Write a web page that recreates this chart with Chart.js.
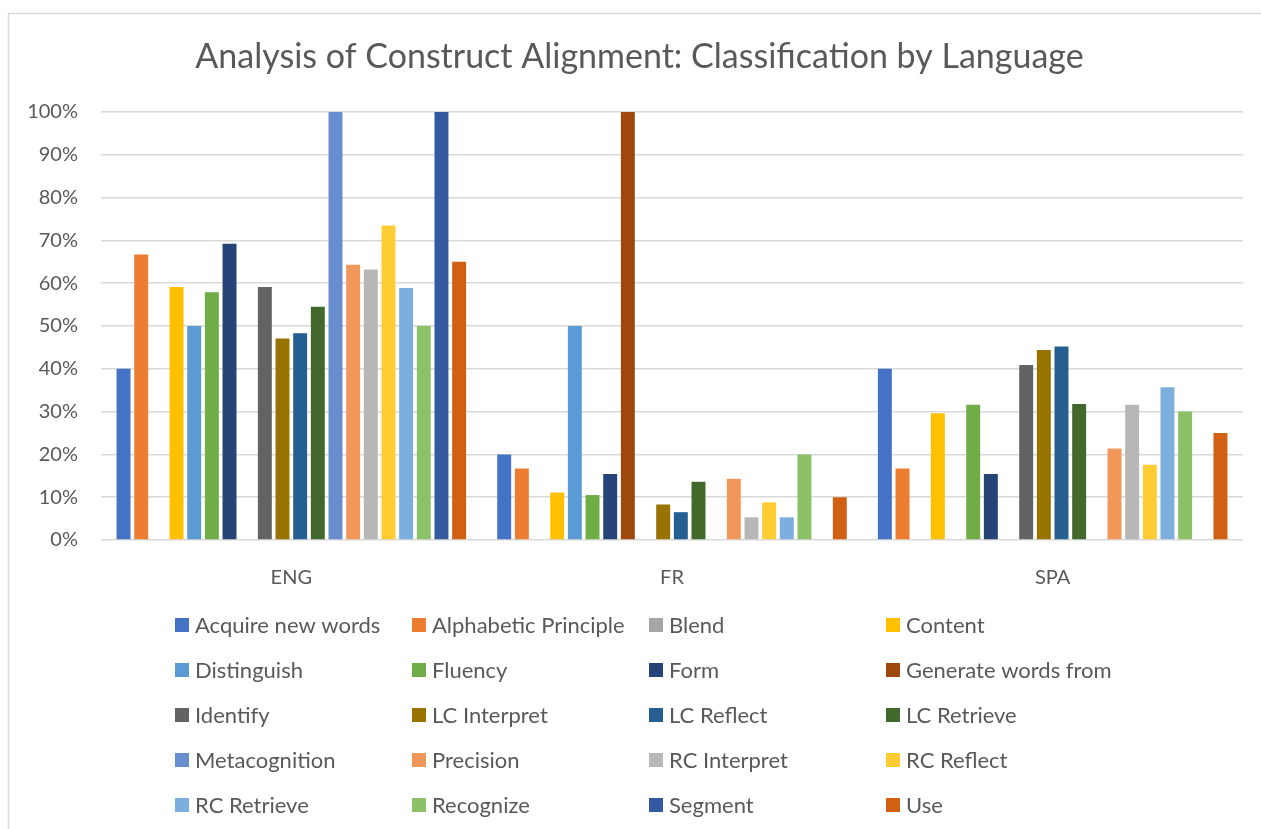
<!DOCTYPE html>
<html>
<head>
<meta charset="utf-8">
<script src="https://cdn.jsdelivr.net/npm/chart.js@4"></script>
<style>
    html, body { margin: 0; padding: 0; background: #fff; }
    #wrap { width: 1261px; height: 829px; }
</style>
</head>
<body>
<div id="wrap"><canvas id="chart" width="1261" height="829"></canvas></div>
<script>
// Languages on the x axis
const languages = ['ENG', 'FR', 'SPA'];

// Construct names (legend order)
const constructs = [
    'Acquire new words', 'Alphabetic Principle', 'Blend', 'Content',
    'Distinguish', 'Fluency', 'Form', 'Generate words from',
    'Identify', 'LC Interpret', 'LC Reflect', 'LC Retrieve',
    'Metacognition', 'Precision', 'RC Interpret', 'RC Reflect',
    'RC Retrieve', 'Recognize', 'Segment', 'Use'
];

// Percent values per language, same order as constructs (null = no bar)
const engValues = [40, 66.7, null, 59.1, 50, 57.9, 69.2, null, 59.1, 47.1, 48.3, 54.5, 100, 64.3, 63.2, 73.5, 58.9, 50, 100, 65];
const frValues  = [20, 16.7, null, 11.1, 50, 10.5, 15.4, 100, null, 8.3, 6.5, 13.6, null, 14.3, 5.3, 8.8, 5.3, 20, null, 10];
const spaValues = [40, 16.7, null, 29.6, null, 31.6, 15.4, null, 40.9, 44.4, 45.2, 31.8, null, 21.4, 31.6, 17.6, 35.7, 30, null, 25];

// Office palette colours for the 20 series
const colors = [
    '#4472C4', '#ED7D31', '#A5A5A5', '#FFC000',
    '#5B9BD5', '#70AD47', '#264478', '#9E480E',
    '#636363', '#997300', '#255E91', '#43682B',
    '#698ED0', '#F1975A', '#B7B7B7', '#FFCD33',
    '#7CAFDD', '#8CC168', '#335AA1', '#D26012'
];

const chartTitle = 'Analysis of Construct Alignment: Classification by Language';
const textColor = '#595959';
const gridColor = '#d9d9d9';
const fontFamily = 'Lato, "Liberation Sans", sans-serif';

const datasets = constructs.map((name, i) => ({
    label: name,
    data: [engValues[i], frValues[i], spaValues[i]],
    backgroundColor: colors[i],
    borderWidth: 0,
    categoryPercentage: 0.928,
    barPercentage: 0.79,
}));

// White background, the light frame and the title (centred on the frame, not the plot)
const framePlugin = {
    id: 'frame',
    beforeDraw(chart) {
        const ctx = chart.ctx;
        ctx.save();
        ctx.fillStyle = '#ffffff';
        ctx.fillRect(0, 0, chart.width, chart.height);
        ctx.strokeStyle = gridColor;
        ctx.lineWidth = 1.5;
        ctx.strokeRect(8.5, 13.5, chart.width + 10, chart.height + 10);

        ctx.fillStyle = textColor;
        ctx.font = '34px ' + fontFamily;
        ctx.textAlign = 'center';
        ctx.textBaseline = 'middle';
        ctx.fillText(chartTitle, 639.5, 57);
        ctx.restore();
    }
};

// Legend laid out in four fixed columns, like the Excel original
const gridLegendPlugin = {
    id: 'gridLegend',
    afterDraw(chart) {
        const ctx = chart.ctx;
        const startX = 175;
        const startY = 625;
        const colWidth = 237;
        const rowHeight = 45;
        ctx.save();
        ctx.font = '22px ' + fontFamily;
        ctx.textBaseline = 'middle';
        ctx.textAlign = 'left';
        chart.data.datasets.forEach((ds, i) => {
            const x = startX + (i % 4) * colWidth;
            const y = startY + Math.floor(i / 4) * rowHeight;
            ctx.fillStyle = ds.backgroundColor;
            ctx.fillRect(x, y - 7, 14, 14);
            ctx.fillStyle = textColor;
            ctx.fillText(ds.label, x + 20, y + 1);
        });
        ctx.restore();
    }
};

new Chart(document.getElementById('chart'), {
    type: 'bar',
    data: {
        labels: languages,
        datasets: datasets,
    },
    options: {
        responsive: false,
        animation: false,
        layout: {
            padding: { left: 0, right: 18, top: 112, bottom: 229 },
        },
        plugins: {
            legend: { display: false },
            tooltip: { enabled: false },
            title: { display: false },
        },
        scales: {
            x: {
                grid: { display: false },
                border: { display: false },
                ticks: {
                    color: textColor,
                    font: { family: fontFamily, size: 20 },
                    padding: 18,
                },
                afterFit(scale) { scale.height = 60; },
            },
            y: {
                min: 0,
                max: 100,
                border: { display: false },
                grid: { color: gridColor, lineWidth: 1.5, drawTicks: false },
                ticks: {
                    stepSize: 10,
                    color: textColor,
                    font: { family: fontFamily, size: 20 },
                    padding: 23,
                    callback: (v) => v + '%',
                },
                afterFit(scale) { scale.width = 101; },
            },
        },
    },
    plugins: [framePlugin, gridLegendPlugin],
});
</script>
</body>
</html>
